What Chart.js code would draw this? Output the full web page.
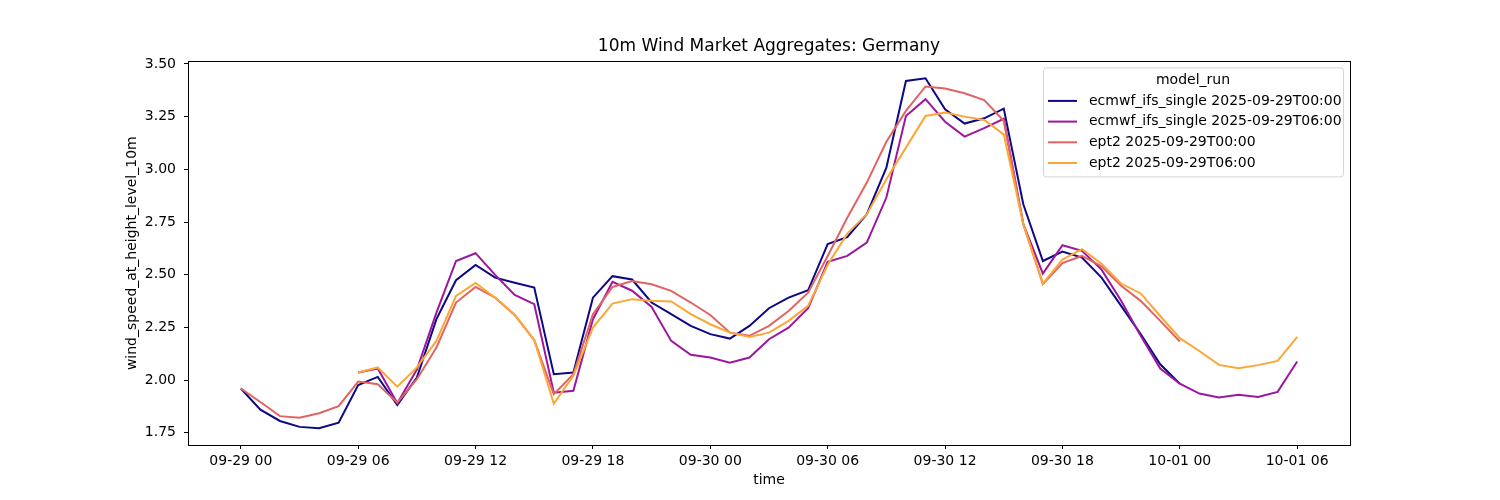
<!DOCTYPE html>
<html>
<head>
<meta charset="utf-8">
<script src="https://cdn.jsdelivr.net/npm/chart.js@4"></script>
<style>
  body { margin: 0; background: #fff; }
  #wrap { width: 1500px; height: 500px; }
</style>
</head>
<body>
<div id="wrap"><canvas id="chart" width="1500" height="500"></canvas></div>
<script>
// ==== DATA ====
// hours since 2025-09-29 00:00
const tickHours  = [0, 6, 12, 18, 24, 30, 36, 42, 48, 54];
const tickLabels = ['09-29 00', '09-29 06', '09-29 12', '09-29 18', '09-30 00',
                    '09-30 06', '09-30 12', '09-30 18', '10-01 00', '10-01 06'];
const yTicks     = [1.75, 2.00, 2.25, 2.50, 2.75, 3.00, 3.25, 3.50];

const seriesNames  = ['ecmwf_ifs_single 2025-09-29T00:00', 'ecmwf_ifs_single 2025-09-29T06:00',
                      'ept2 2025-09-29T00:00', 'ept2 2025-09-29T06:00'];
const seriesStart  = [0, 6, 0, 6];   // first hour of each run
const seriesColors = ['#0d0887', '#9c179e', '#e16462', '#fca636'];

const ecmwf00 = [1.96, 1.86, 1.806, 1.778, 1.772, 1.798, 1.976, 2.015, 1.882, 2.012,
                 2.289, 2.474, 2.546, 2.486, 2.462, 2.439, 2.028, 2.036, 2.391, 2.493,
                 2.477, 2.368, 2.313, 2.257, 2.218, 2.197, 2.257, 2.341, 2.391, 2.426,
                 2.645, 2.678, 2.787, 3.008, 3.419, 3.432, 3.285, 3.217, 3.242, 3.288,
                 2.834, 2.565, 2.61, 2.581, 2.486, 2.352, 2.218, 2.075, 1.983];
const ecmwf06 = [2.036, 2.055, 1.89, 2.05, 2.32, 2.565, 2.602, 2.499, 2.404, 2.36,
                 1.94, 1.949, 2.289, 2.466, 2.424, 2.347, 2.186, 2.12, 2.107, 2.082,
                 2.107, 2.194, 2.249, 2.341, 2.561, 2.589, 2.652, 2.866, 3.253, 3.333,
                 3.226, 3.155, 3.195, 3.24, 2.74, 2.505, 2.64, 2.613, 2.524, 2.376,
                 2.21, 2.055, 1.983, 1.936, 1.917, 1.93, 1.92, 1.944, 2.088];
const ept2_00 = [1.96, 1.896, 1.829, 1.821, 1.843, 1.876, 1.993, 1.98, 1.893, 2.004,
                 2.154, 2.368, 2.442, 2.391, 2.309, 2.189, 1.933, 2.028, 2.313, 2.442,
                 2.47, 2.455, 2.423, 2.368, 2.309, 2.225, 2.21, 2.257, 2.328, 2.415,
                 2.589, 2.77, 2.937, 3.131, 3.277, 3.393, 3.383, 3.361, 3.328, 3.23,
                 2.74, 2.455, 2.555, 2.589, 2.54, 2.447, 2.376, 2.281, 2.183];
const ept2_06 = [2.036, 2.06, 1.969, 2.06, 2.186, 2.399, 2.461, 2.391, 2.31, 2.19,
                 1.888, 2.02, 2.249, 2.363, 2.384, 2.376, 2.373, 2.313, 2.265, 2.225,
                 2.205, 2.225, 2.281, 2.352, 2.547, 2.695, 2.787, 2.953, 3.103, 3.253,
                 3.269, 3.25, 3.234, 3.166, 2.74, 2.458, 2.572, 2.621, 2.552, 2.458,
                 2.411, 2.304, 2.199, 2.138, 2.072, 2.056, 2.071, 2.091, 2.205];

const seriesValues = [ecmwf00, ecmwf06, ept2_00, ept2_06];

const FONT = 'DejaVu Sans';

// ==== PLUGINS ====
// full black box round the plot
const framePlugin = {
  id: 'frame',
  afterDatasetsDraw(chart) {
    const {ctx, chartArea: a} = chart;
    ctx.save();
    ctx.strokeStyle = '#000';
    ctx.lineWidth = 1;
    ctx.strokeRect(Math.round(a.left) + 0.5, Math.round(a.top) + 0.5,
                   Math.round(a.right - a.left), Math.round(a.bottom - a.top));
    ctx.restore();
  }
};

// matplotlib style legend, upper right inside the axes
const legendPlugin = {
  id: 'mplLegend',
  afterDraw(chart) {
    const {ctx, chartArea: a} = chart;
    const w = 300, h = 109;
    const x = a.right - 7 - w, y = a.top + 6;
    ctx.save();
    ctx.beginPath();
    ctx.roundRect(x + 0.5, y + 0.5, w, h, 3);
    ctx.fillStyle = 'rgba(255,255,255,0.8)';
    ctx.fill();
    ctx.strokeStyle = '#d5d5d5';
    ctx.lineWidth = 1;
    ctx.stroke();

    ctx.fillStyle = '#000';
    ctx.font = '14px "' + FONT + '"';
    ctx.textBaseline = 'middle';
    ctx.textAlign = 'center';
    ctx.fillText('model_run', x + w / 2, y + 12.5);

    ctx.textAlign = 'left';
    chart.data.datasets.forEach((ds, i) => {
      const ly = y + 33.5 + i * 20.7;
      ctx.strokeStyle = ds.borderColor;
      ctx.lineWidth = 2;
      ctx.beginPath();
      ctx.moveTo(x + 5, ly);
      ctx.lineTo(x + 34, ly);
      ctx.stroke();
      ctx.fillStyle = '#000';
      ctx.fillText(ds.label, x + 46, ly);
    });
    ctx.restore();
  }
};

// ==== CHART ====
const datasets = seriesValues.map((vals, i) => ({
  label: seriesNames[i],
  data: vals.map((v, j) => ({x: seriesStart[i] + j, y: v})),
  borderColor: seriesColors[i],
  backgroundColor: seriesColors[i],
  borderWidth: 2,
  pointRadius: 0,
  tension: 0,
  fill: false,
  order: seriesValues.length - i
}));

new Chart(document.getElementById('chart').getContext('2d'), {
  type: 'line',
  data: { datasets },
  plugins: [framePlugin, legendPlugin],
  options: {
    responsive: false,
    animation: false,
    layout: { padding: { left: 0, right: 150, top: 0, bottom: 0 } },
    plugins: {
      legend: { display: false },
      tooltip: { enabled: false },
      title: {
        display: true,
        fullSize: false,
        text: '10m Wind Market Aggregates: Germany',
        color: '#000',
        font: { family: FONT, size: 17, weight: 'normal' },
        padding: { top: 36, bottom: 5 }
      }
    },
    scales: {
      x: {
        type: 'linear',
        min: -2.7, max: 56.7,
        afterBuildTicks: s => { s.ticks = tickHours.map(v => ({value: v})); },
        afterFit: s => { s.height = 55; },
        grid: { drawOnChartArea: false, drawTicks: true, tickLength: 4, color: '#000', lineWidth: 1 },
        border: { display: false },
        ticks: {
          autoSkip: false, maxRotation: 0, padding: 4, color: '#000',
          font: { family: FONT, size: 14 },
          callback: v => tickLabels[tickHours.indexOf(v)]
        },
        title: {
          display: true, text: 'time', color: '#000',
          font: { family: FONT, size: 14 },
          padding: { top: 0, bottom: 11 }
        }
      },
      y: {
        min: 1.692, max: 3.512,
        afterBuildTicks: s => { s.ticks = yTicks.map(v => ({value: v})); },
        afterFit: s => { s.width = 188; },
        grid: { drawOnChartArea: false, drawTicks: true, tickLength: 4, color: '#000', lineWidth: 1 },
        border: { display: false },
        ticks: {
          padding: 8, color: '#000',
          font: { family: FONT, size: 14 },
          callback: v => v.toFixed(2)
        },
        title: {
          display: true, text: 'wind_speed_at_height_level_10m', color: '#000',
          font: { family: FONT, size: 14 },
          padding: { top: 124, bottom: 0 }
        }
      }
    }
  }
});
</script>
</body>
</html>
